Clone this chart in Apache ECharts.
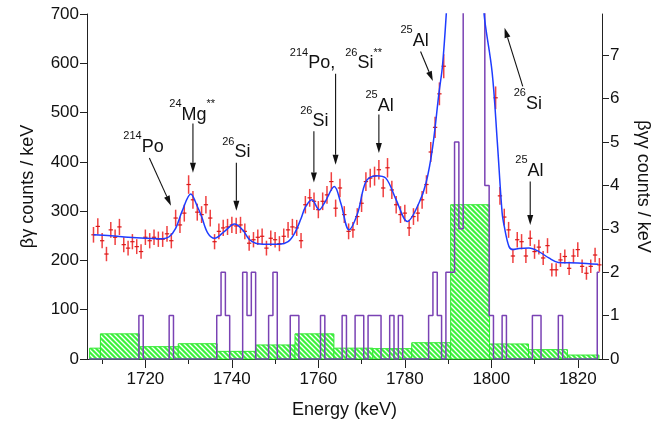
<!DOCTYPE html>
<html>
<head>
<meta charset="utf-8">
<script src="https://cdn.jsdelivr.net/npm/echarts@6/dist/echarts.min.js"></script>
<style>
  html, body { margin: 0; padding: 0; background: #fff; }
  #chart { width: 660px; height: 426px; }
</style>
</head>
<body>
<div id="chart"></div>
<script>
// beta-gamma counts per 1 keV bin, first bin at 1708 keV (null = off the top)
const countsStart = 1708
const counts = [
  252, 269, 240, 213, 262, 247, 268, 232, 225, 238, 228, 218,   // 1708-1719
  247, 240, 247, 243, 243, 254, 240, 286, 272, 296,             // 1720-1729
  354, 323, 298, 293, 313, 286, 238, 259, 266, 268,             // 1730-1739
  272, 270, 272, 259, 235, 242, 247, 249, 225, 245,             // 1740-1749
  242, 234, 249, 262, 268, 266, 240, 313, 327, 320,             // 1750-1759
  303, 320, 333, 360, 306, 347, 293, 259, 262, 289,             // 1760-1769
  316, 360, 367, 371, 384, 347, 388, 343, 313, 293,             // 1770-1779
  296, 266, 289, 296, 323, 354, 420, 470, 538, 594,             // 1780-1789
  null, null, null, null, null, null, null, null, null, null,   // 1790-1799
  null, 530, 331, 288, 262, 209, 242, 238, 209, 245,            // 1800-1809
  218, 227, 205, 230, 181, 181, 201, 208, 184, 209,             // 1810-1819
  222, 188, 174, 188, 211, 191                                  // 1820-1825
]

// fitted curve (knots)
const fitE = [1708, 1712, 1716, 1720, 1724, 1725.5, 1727, 1728.5, 1730.5, 1732, 1733, 1734.4, 1736,
  1738.3, 1740.6, 1742.5, 1744, 1745.5, 1748, 1751, 1753, 1754.5, 1756, 1757, 1758.5, 1760.2, 1761.5,
  1763.7, 1765.2, 1767.1, 1769.1, 1771, 1773.3, 1775.6, 1778, 1780.6, 1783.3, 1784.9, 1786.4, 1787.9,
  1788.7, 1789.6, 1790.2, 1791, 1797, 1797.8, 1798.3, 1800.2, 1801.4, 1802.5, 1803, 1804.1, 1805,
  1806.4, 1808.7, 1811, 1813.3, 1815.5, 1820, 1824.7]
const fitY = [252, 250, 247, 245, 244, 248, 265, 300, 335, 310, 289, 256, 245,
  259, 274, 262, 243, 235, 233, 233, 238, 255, 285, 308, 323, 303, 318,
  350, 316, 262, 296, 360, 372, 367, 323, 279, 317, 357, 428, 540,
  594, 702, 800, 1000, 1000, 800, 702, 581, 439, 297, 269, 228, 222,
  224, 225, 218, 205, 196, 195, 192]

// beta-gamma-gamma counts per 1 keV bin, first bin at 1707 keV (right axis)
const coincStart = 1707
const coinc = [
  0, 0, 0, 0, 0, 0, 0, 0, 0, 0, 0, 0, 1, 0, 0, 0, 0, 0, 0, 1,   // 1707-1726
  0, 0, 0, 0, 0, 0, 0, 0, 0, 0, 1, 2, 1, 0, 0, 0, 2, 1, 2, 0,   // 1727-1746
  0, 0, 1, 2, 0, 0, 0, 1, 1, 0, 0, 0, 0, 0, 1, 0, 0, 0, 0, 1,   // 1747-1766
  0, 0, 1, 1, 0, 1, 1, 1, 0, 0, 1, 0, 1, 0, 0, 0, 0, 0, 0, 1,   // 1767-1786
  2, 1, 0, 2, 2, 5, 3, 12, 12, 12, 12, 12, 4, 1, 0, 0, 1, 0, 0, 0, // 1787-1806
  0, 0, 0, 1, 1, 0, 0, 0, 0, 1, 0, 0, 0, 0, 0, 0, 0, 0, 2       // 1807-1825
]

// hatched background histogram (left axis)
const bgEdges = [1707.1, 1709.6, 1718.6, 1727.6, 1736.6, 1745.6, 1754.6, 1763.6, 1772.6,
  1781.6, 1790.6, 1799.6, 1808.6, 1817.6, 1824.9]
const bgValues = [22, 51, 25, 31, 15.5, 28.5, 51, 22, 21, 33, 313, 30.5, 19, 8]

const majorTicks = [1720, 1740, 1760, 1780, 1800, 1820]
const minorTicks = [1710, 1730, 1750, 1770, 1790, 1810]
const rightTicks = [0, 1, 2, 3, 4, 5, 6, 7]

// peak labels: pieces ('s' = superscript, 'm' = main), label centre and arrow (data coords)
const noteParts = [
  [['s', '214'], ['m', 'Po']],
  [['s', '24'], ['m', 'Mg'], ['s', '**']],
  [['s', '26'], ['m', 'Si']],
  [['s', '26'], ['m', 'Si']],
  [['s', '214'], ['m', 'Po,  '], ['s', '26'], ['m', 'Si'], ['s', '**']],
  [['s', '25'], ['m', 'Al']],
  [['s', '25'], ['m', 'Al']],
  [['s', '26'], ['m', 'Si']],
  [['s', '25'], ['m', 'Al']]
]
const notePos = [[1719.56, 431], [1730.82, 496], [1741.04, 420], [1759.07, 482], [1764.06, 600],
  [1774.16, 514], [1782.25, 646], [1808.44, 518], [1808.83, 382]]
const arrowFrom = [[1720.92, 408], [1731.0, 478], [1741.04, 398], [1758.97, 462], [1763.99, 579],
  [1774.0, 496], [1783.64, 624], [1807.28, 553], [1809.0, 360]]
const arrowTo = [[1725.92, 311], [1731.0, 378], [1741.04, 301], [1758.97, 358], [1763.99, 394],
  [1774.0, 418], [1786.48, 564], [1803.06, 672], [1809.0, 272]]

const FONT = '"Liberation Sans", Arial, sans-serif'
const MAIN_SIZE = 18
const SUP_SIZE = 11

// green / white diagonal hatch
const hatch = document.createElement('canvas')
hatch.width = 5
hatch.height = 5
;(function () {
  const ctx = hatch.getContext('2d')
  ctx.fillStyle = '#3cf23c'
  ctx.fillRect(0, 0, 5, 5)
  ctx.strokeStyle = '#ffffff'
  ctx.lineWidth = 1.3
  ctx.beginPath()
  ctx.moveTo(-1, -1); ctx.lineTo(6, 6)
  ctx.moveTo(-1, 4); ctx.lineTo(1, 6)
  ctx.moveTo(4, -1); ctx.lineTo(6, 1)
  ctx.stroke()
})()

// text width helper for the superscript labels
const measureCtx = document.createElement('canvas').getContext('2d')
const textWidth = (str, size) => {
  measureCtx.font = size + 'px ' + FONT
  return measureCtx.measureText(str).width
}

const pointData = counts.map((v, i) => [countsStart + i, v]).filter(d => d[1] !== null)
const coincData = coinc.map((v, i) => [coincStart + i, v])
const fitData = fitE.map((e, i) => [e, fitY[i]])
const bgData = bgValues.map((v, i) => [bgEdges[i], bgEdges[i + 1], v])
const noteData = notePos.map(p => [p[0], p[1]])

const chart = echarts.init(document.getElementById('chart'))

const renderBg = (params, api) => {
  const p0 = api.coord([api.value(0), api.value(2)])
  const p1 = api.coord([api.value(1), 0])
  return {
    type: 'rect',
    shape: { x: p0[0], y: p0[1], width: p1[0] - p0[0], height: p1[1] - p0[1] },
    style: { fill: { image: hatch, repeat: 'repeat' }, stroke: '#2fe82f', lineWidth: 1 }
  }
}

const renderPoint = (params, api) => {
  const e = api.value(0)
  const v = api.value(1)
  const err = Math.sqrt(v)
  const c = api.coord([e, v])
  const top = api.coord([e, v + err])
  const bot = api.coord([e, v - err])
  const hw = api.size([0.5, 0])[0]
  return {
    type: 'group',
    children: [
      { type: 'line', shape: { x1: c[0], y1: top[1], x2: c[0], y2: bot[1] },
        style: { stroke: '#f04040', lineWidth: 1.5 } },
      { type: 'line', shape: { x1: c[0] - hw, y1: c[1], x2: c[0] + hw, y2: c[1] },
        style: { stroke: '#d81818', lineWidth: 1.2 } }
    ]
  }
}

const renderNote = (params, api) => {
  const i = params.dataIndex
  const t = api.coord(notePos[i])
  const a = api.coord(arrowFrom[i])
  const b = api.coord(arrowTo[i])
  const ang = Math.atan2(b[1] - a[1], b[0] - a[0])
  const L = 10
  const W = 3
  const bx = b[0] - L * Math.cos(ang)
  const by = b[1] - L * Math.sin(ang)
  const nx = -Math.sin(ang) * W
  const ny = Math.cos(ang) * W
  const children = [
    { type: 'line', shape: { x1: a[0], y1: a[1], x2: bx, y2: by },
      style: { stroke: '#111', lineWidth: 1.1 } },
    { type: 'polygon', shape: { points: [[b[0], b[1]], [bx + nx, by + ny], [bx - nx, by - ny]] },
      style: { fill: '#111' } }
  ]
  // lay the label pieces out left to right, centred on the label position
  const parts = noteParts[i]
  const widths = parts.map(p => textWidth(p[1], p[0] === 's' ? SUP_SIZE : MAIN_SIZE))
  let x = t[0] - widths.reduce((s, w) => s + w, 0) / 2
  parts.forEach((p, k) => {
    const sup = p[0] === 's'
    children.push({
      type: 'text', x: x, y: sup ? t[1] - 10.3 : t[1],
      style: {
        text: p[1], align: 'left', verticalAlign: 'middle',
        fontFamily: FONT, fontSize: sup ? SUP_SIZE : MAIN_SIZE, fill: '#111'
      }
    })
    x += widths[k]
  })
  return { type: 'group', children: children }
}

const axisText = { color: '#111', fontFamily: FONT, fontSize: 17, formatter: v => String(v) }

chart.setOption({
  animation: false,
  backgroundColor: '#fff',
  grid: { left: 87, right: 57, top: 14, bottom: 67 },
  xAxis: [{
    type: 'value', min: 1706.5, max: 1825.6,
    name: 'Energy (keV)', nameLocation: 'middle', nameGap: 42,
    nameTextStyle: { color: '#111', fontFamily: FONT, fontSize: 18 },
    axisLine: { lineStyle: { color: '#222', width: 1 } },
    axisTick: { length: 9, customValues: majorTicks, lineStyle: { color: '#222' } },
    axisLabel: { customValues: majorTicks, margin: 12, ...axisText },
    splitLine: { show: false }
  }, {
    type: 'value', min: 1706.5, max: 1825.6, position: 'bottom',
    axisLine: { show: false },
    axisTick: { length: 5, customValues: minorTicks, lineStyle: { color: '#222' } },
    axisLabel: { show: false },
    splitLine: { show: false }
  }],
  yAxis: [{
    type: 'value', min: 0, max: 700, interval: 100, position: 'left',
    name: 'βγ counts / keV', nameLocation: 'middle', nameGap: 50, nameRotate: 90,
    nameTextStyle: { color: '#111', fontFamily: FONT, fontSize: 18 },
    axisLine: { show: true, lineStyle: { color: '#222', width: 1 } },
    axisTick: { show: true, length: 7, lineStyle: { color: '#222' } },
    axisLabel: { margin: 8, ...axisText },
    splitLine: { show: false }
  }, {
    type: 'value', min: 0, max: 7.95, position: 'right',
    name: 'βγγ counts / keV', nameLocation: 'middle', nameGap: 32, nameRotate: -90,
    nameTextStyle: { color: '#111', fontFamily: FONT, fontSize: 18 },
    axisLine: { show: true, lineStyle: { color: '#222', width: 1 } },
    axisTick: { show: true, length: 7, customValues: rightTicks, lineStyle: { color: '#222' } },
    axisLabel: { margin: 8, customValues: rightTicks, ...axisText },
    splitLine: { show: false }
  }],
  series: [
    {
      type: 'custom', name: 'background', renderItem: renderBg, data: bgData,
      encode: { x: [0, 1], y: 2 }, z: 1, silent: true
    },
    {
      type: 'line', name: 'coincidences', yAxisIndex: 1, data: coincData, step: 'middle',
      symbol: 'none', lineStyle: { color: '#7a42b4', width: 1.5 }, z: 2, silent: true
    },
    {
      type: 'custom', name: 'counts', renderItem: renderPoint, data: pointData,
      encode: { x: 0, y: 1 }, z: 3, silent: true
    },
    {
      type: 'line', name: 'fit', data: fitData, smooth: 0.35, symbol: 'none',
      lineStyle: { color: '#1e3cff', width: 1.5 }, z: 4, silent: true
    },
    {
      type: 'custom', name: 'notes', renderItem: renderNote, data: noteData,
      encode: { x: 0, y: 1 }, clip: false, z: 5, silent: true
    }
  ]
})
</script>
</body>
</html>
